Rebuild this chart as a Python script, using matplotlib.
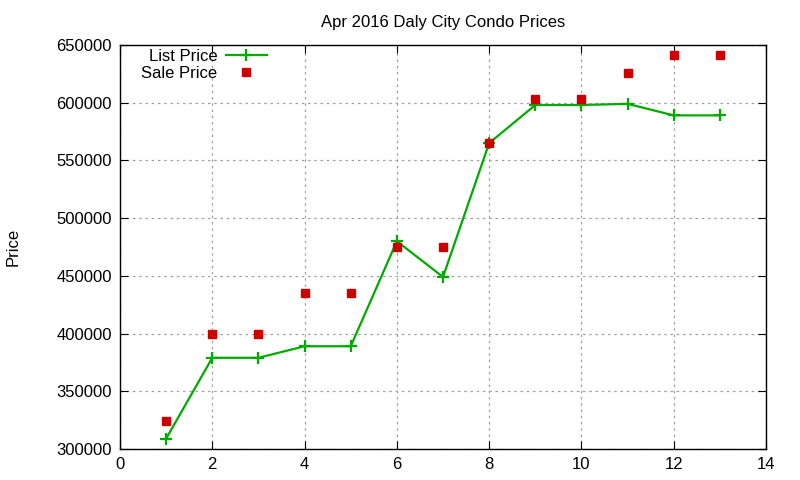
import matplotlib
matplotlib.use("Agg")
import matplotlib.pyplot as plt

# week index vs. price
weeks = [1, 2, 3, 4, 5, 6, 7, 8, 9, 10, 11, 12, 13]
list_price = [309000, 379000, 379000, 389000, 389000, 480000, 449000,
              565000, 598000, 598000, 599000, 589000, 589000]
sale_price = [324000, 400000, 400000, 435000, 435000, 475000, 475000,
              565000, 603000, 603000, 626000, 641000, 641000]

x_ticks = [0, 2, 4, 6, 8, 10, 12, 14]
y_ticks = [300000, 350000, 400000, 450000, 500000, 550000, 600000, 650000]

plt.rcParams["font.family"] = ["Liberation Sans", "DejaVu Sans"]

fig = plt.figure(figsize=(8, 4.8), dpi=100)
ax = fig.add_axes([0.15, 0.0646, 0.8075, 0.8417])

ax.plot(weeks, list_price, color="#00aa00", lw=1.6, marker="+", ms=9,
        mew=1.6, label="List Price")
ax.plot(weeks, sale_price, ls="none", color="#cc0000", marker="s", ms=6,
        label="Sale Price")

ax.set_xlim(0, 14)
ax.set_ylim(300000, 650000)
ax.set_xticks(x_ticks)
ax.set_yticks(y_ticks)
ax.tick_params(direction="in", top=True, right=True, length=6,
               labelsize=12, pad=6)
ax.grid(True, color="#a0a0a0", ls=(0, (2, 3)), lw=0.9)
for s in ax.spines.values():
    s.set_linewidth(1.0)

ax.set_title("Apr 2016 Daly City Condo Prices", fontsize=12, pad=13)
fig.text(0.016, 0.485, "Price", rotation=90, fontsize=12,
         ha="center", va="center")

leg = ax.legend(loc="upper right", bbox_to_anchor=(0.228, 0.99),
                frameon=False, markerfirst=False, fontsize=12,
                handlelength=2.5, handletextpad=0.5, labelspacing=0.12,
                borderaxespad=0.0, borderpad=0.0)
for t in leg.get_texts():
    t.set_ha("right")

fig.savefig("out.png", dpi=100)
